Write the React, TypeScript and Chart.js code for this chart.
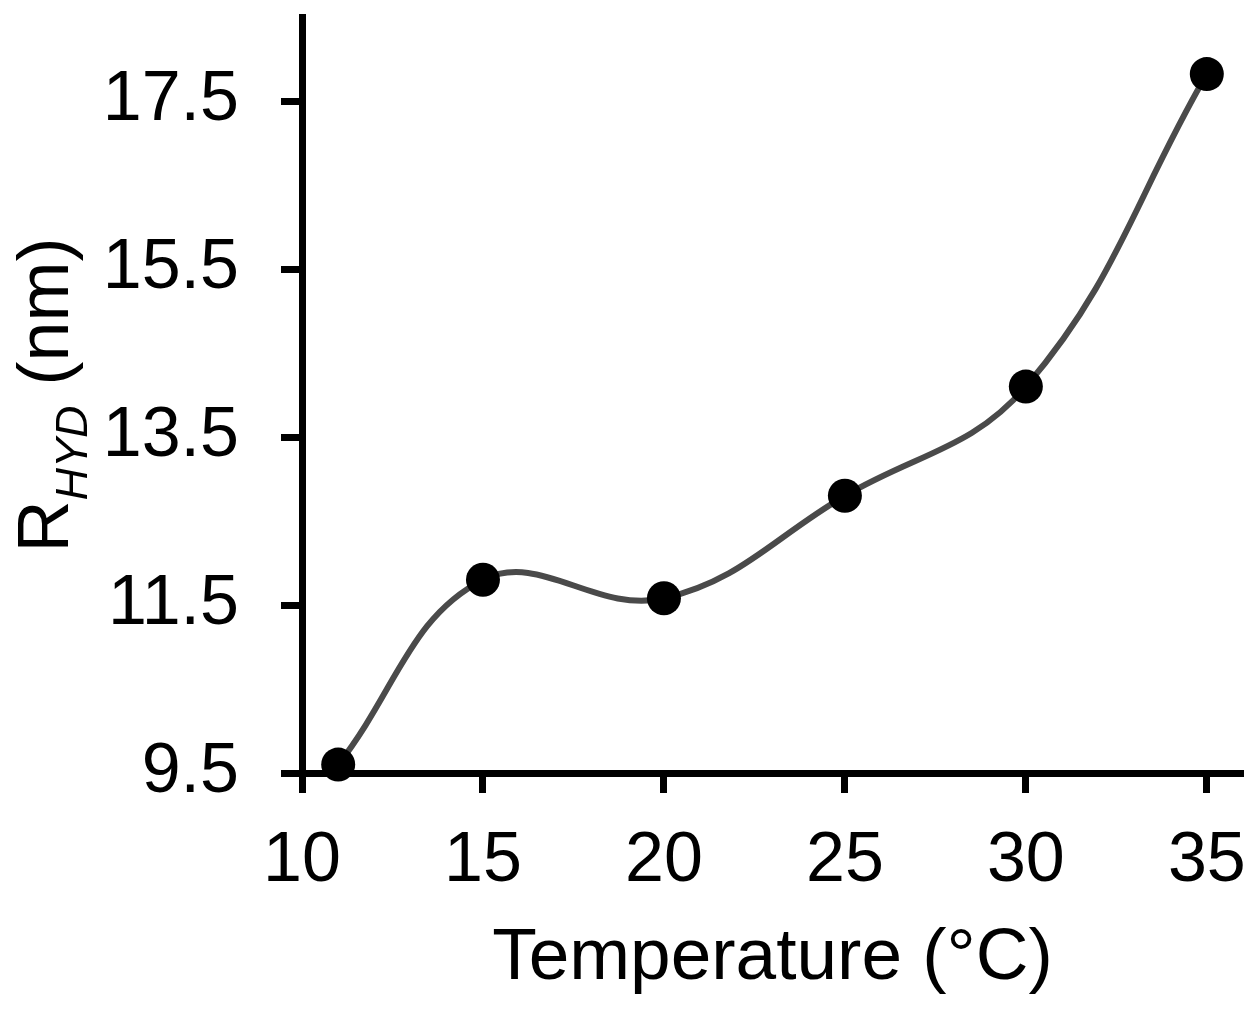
import React, { useEffect, useRef } from "react";
import { Chart, registerables } from "chart.js";

Chart.register(...registerables);

// ---- data ----
const temperatures = [11, 15, 20, 25, 30, 35];
const radii = [9.6, 11.8, 11.58, 12.8, 14.1, 17.82];
const xTicks = [10, 15, 20, 25, 30, 35];
const yTicks = [9.5, 11.5, 13.5, 15.5, 17.5];
const xTitle = "Temperature (°C)";
const yTitleMain = "R";
const yTitleSub = "HYD";
const yTitleRest = " (nm)";

const FONT = "'Liberation Sans', Arial, Helvetica, sans-serif";

const yTitlePlugin = {
  id: "yTitleRich",
  afterDraw(chart: any) {
    const ctx = chart.ctx as CanvasRenderingContext2D;
    const area = chart.chartArea;
    const cy = (area.top + area.bottom) / 2;
    const baseX = 68;
    const mainFont = `72px ${FONT}`;
    const subFont = `italic 45px ${FONT}`;
    ctx.save();
    ctx.font = mainFont;
    const wR = ctx.measureText(yTitleMain).width;
    const wRest = ctx.measureText(yTitleRest).width;
    ctx.font = subFont;
    const wSub = ctx.measureText(yTitleSub).width;
    const total = wR + wSub + wRest;
    ctx.translate(baseX, cy);
    ctx.rotate(-Math.PI / 2);
    ctx.fillStyle = "#000";
    ctx.textBaseline = "alphabetic";
    ctx.textAlign = "left";
    let x = -total / 2;
    ctx.font = mainFont;
    ctx.fillText(yTitleMain, x, 0);
    x += wR;
    ctx.font = subFont;
    ctx.fillText(yTitleSub, x, 19);
    x += wSub;
    ctx.font = mainFont;
    ctx.fillText(yTitleRest, x, 0);
    ctx.restore();
  },
};

const zeroPad = (scale: any) => {
  scale.paddingTop = 0;
  scale.paddingBottom = 0;
  scale.paddingLeft = 0;
  scale.paddingRight = 0;
};

export default function App() {
  const ref = useRef<HTMLCanvasElement | null>(null);

  useEffect(() => {
    document.body.style.margin = "0";
    const canvas = ref.current;
    if (!canvas) return;
    const points = temperatures.map((t, i) => ({ x: t, y: radii[i] }));
    const chart = new Chart(canvas, {
      type: "line",
      data: {
        datasets: [
          {
            data: points,
            borderColor: "#4a4a4a",
            borderWidth: 6,
            tension: 0.4,
            pointRadius: 17,
            pointHoverRadius: 17,
            pointBackgroundColor: "#000",
            pointBorderColor: "#000",
            pointBorderWidth: 0,
            clip: false as any,
            fill: false,
          },
        ],
      },
      options: {
        responsive: false,
        animation: false,
        devicePixelRatio: 1,
        layout: { padding: { top: 12, right: 15, left: 0, bottom: 0 } },
        plugins: {
          legend: { display: false },
          tooltip: { enabled: false },
        },
        scales: {
          x: {
            type: "linear",
            min: 10,
            max: 36,
            afterBuildTicks: (scale: any) => {
              scale.ticks = xTicks.map((v) => ({ value: v }));
            },
            afterFit: (scale: any) => {
              scale.height = 241;
              zeroPad(scale);
            },
            border: { display: true, color: "#000", width: 7 },
            grid: {
              display: true,
              drawOnChartArea: false,
              drawTicks: true,
              tickLength: 20,
              tickWidth: 7,
              tickColor: "#000",
            },
            ticks: {
              color: "#000",
              font: { family: FONT, size: 70, lineHeight: 1.2 },
              padding: 27,
              maxRotation: 0,
              autoSkip: false,
              callback: (v: any) => String(v),
            },
            title: {
              display: true,
              text: xTitle,
              color: "#000",
              font: { family: FONT, size: 73, lineHeight: 1.2 },
              padding: { top: 0, bottom: 11 },
            },
          },
          y: {
            type: "linear",
            min: 9.5,
            max: 18.5,
            afterBuildTicks: (scale: any) => {
              scale.ticks = yTicks.map((v) => ({ value: v }));
            },
            afterFit: (scale: any) => {
              scale.width = 302;
              zeroPad(scale);
            },
            border: { display: true, color: "#000", width: 7 },
            grid: {
              display: true,
              drawOnChartArea: false,
              drawTicks: true,
              tickLength: 21,
              tickWidth: 7,
              tickColor: "#000",
            },
            ticks: {
              color: "#000",
              font: { family: FONT, size: 70, lineHeight: 1.2 },
              padding: 42,
              autoSkip: false,
              callback: (v: any) => Number(v).toFixed(1),
            },
          },
        },
      },
      plugins: [yTitlePlugin],
    });
    return () => chart.destroy();
  }, []);

  return (
    <div style={{ width: 1260, height: 1014, background: "#fff" }}>
      <canvas ref={ref} width={1260} height={1014} style={{ width: 1260, height: 1014, display: "block" }} />
    </div>
  );
}
